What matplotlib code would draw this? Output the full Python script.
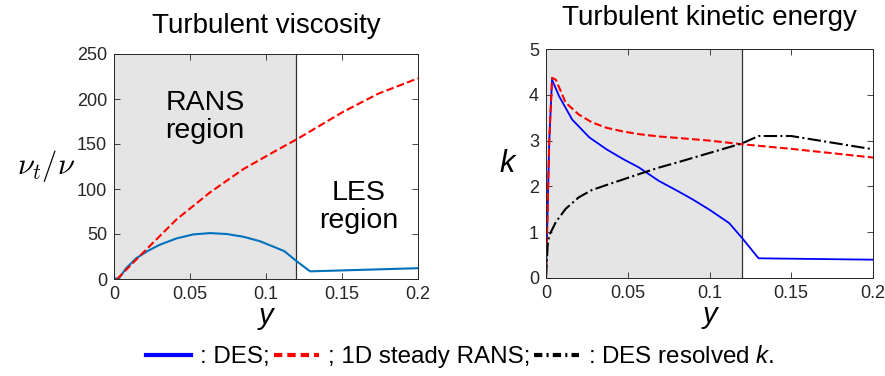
import matplotlib.pyplot as plt
from matplotlib.lines import Line2D

plt.rcParams['font.family'] = ['Liberation Sans', 'DejaVu Sans']
plt.rcParams['mathtext.fontset'] = 'custom'
plt.rcParams['mathtext.it'] = 'Liberation Sans:italic'
plt.rcParams['mathtext.rm'] = 'Liberation Sans'

# turbulent viscosity (left)
y_nu_des = [0.0, 0.003, 0.008, 0.0146, 0.022, 0.03, 0.041, 0.052, 0.063, 0.074, 0.085, 0.096, 0.112, 0.12, 0.129, 0.2]
nu_des = [1, 0, 12, 23, 31, 38, 45, 49.5, 51, 50, 47, 42, 31, 20, 8.5, 12]
y_nu_rans = [0.002, 0.019, 0.041, 0.063, 0.085, 0.107, 0.12, 0.151, 0.174, 0.2]
nu_rans = [0, 29, 66, 96, 122, 143, 155, 186, 206, 223]

# turbulent kinetic energy (right)
y_k_des = [0.0, 0.002, 0.0037, 0.008, 0.016, 0.0265, 0.037, 0.047, 0.057, 0.069, 0.08, 0.09, 0.1, 0.112, 0.12, 0.13, 0.2]
k_des = [0.0, 3.0, 4.33, 3.97, 3.46, 3.07, 2.81, 2.60, 2.41, 2.12, 1.91, 1.71, 1.49, 1.20, 0.87, 0.43, 0.40]
y_k_rans = [0.0, 0.002, 0.0037, 0.006, 0.012, 0.02, 0.028, 0.037, 0.047, 0.057, 0.069, 0.08, 0.1, 0.12, 0.15, 0.2]
k_rans = [0.0, 3.0, 4.37, 4.33, 3.83, 3.57, 3.40, 3.28, 3.20, 3.14, 3.09, 3.06, 3.00, 2.92, 2.82, 2.63]
y_k_res = [0.0, 0.001, 0.002, 0.006, 0.012, 0.02, 0.028, 0.037, 0.047, 0.057, 0.069, 0.08, 0.1, 0.12, 0.13, 0.15, 0.2]
k_res = [0.0, 0.71, 0.93, 1.22, 1.51, 1.76, 1.92, 2.03, 2.15, 2.27, 2.41, 2.52, 2.73, 2.94, 3.10, 3.10, 2.81]

y_interface = 0.12

fig = plt.figure(figsize=(8.85, 3.76), dpi=100)
ax1 = fig.add_axes([114 / 885, 1 - 279 / 376, 304 / 885, 225 / 376])
ax2 = fig.add_axes([546 / 885, 1 - 278 / 376, 327 / 885, 229 / 376])

for ax in (ax1, ax2):
    ax.axvspan(0, y_interface, color='#e5e5e5', lw=0, zorder=0)
    ax.axvline(y_interface, color='#333333', lw=0.9, zorder=1)
    ax.set_xlim(0, 0.2)
    ax.set_xticks([0, 0.05, 0.1, 0.15, 0.2])
    ax.set_xticklabels(['0', '0.05', '0.1', '0.15', '0.2'])
    ax.tick_params(direction='in', top=True, right=True, labelsize=13,
                   colors='#262626', length=4, width=0.6, pad=5)
    for s in ax.spines.values():
        s.set_color('#262626')
        s.set_linewidth(0.7)
    ax.set_xlabel('y', fontsize=21, style='italic', labelpad=-1)

ax1.plot(y_nu_des, nu_des, color='#0072BD', lw=1.5)
ax1.plot(y_nu_rans, nu_rans, '--', color='red', lw=1.5)
ax1.set_ylim(0, 250)
ax1.set_yticks([0, 50, 100, 150, 200, 250])
ax1.set_ylabel(r'$\nu_t/\nu$', fontsize=22, rotation=0, labelpad=22, va='center',
               math_fontfamily='cm')
ax1.set_title('Turbulent viscosity', fontsize=20, pad=15)
ax1.text(0.06, 180, 'RANS\nregion', fontsize=20.5, ha='center', va='center', linespacing=1.05)
ax1.text(0.161, 80, 'LES\nregion', fontsize=20.5, ha='center', va='center', linespacing=1.05)

ax2.plot(y_k_des, k_des, color='blue', lw=1.3)
ax2.plot(y_k_rans, k_rans, '--', color='red', lw=1.5)
ax2.plot(y_k_res, k_res, '-.', color='black', lw=1.5)
ax2.set_ylim(0, 5)
ax2.set_yticks([0, 1, 2, 3, 4, 5])
ax2.set_ylabel('k', fontsize=22, style='italic', rotation=0, labelpad=16, va='center')
ax2.set_title('Turbulent kinetic energy', fontsize=20, pad=17)

handles = [Line2D([], [], color='blue', lw=3),
           Line2D([], [], color='red', lw=3, ls=(0, (2, 1.2))),
           Line2D([], [], color='black', lw=3, ls=(0, (2, 1, 0.5, 1)))]
labels = [': DES;', '; 1D steady RANS;', ': DES resolved $k$.']
fig.legend(handles, labels, loc='center', bbox_to_anchor=(0.52, 19 / 376),
           ncol=3, frameon=False, fontsize=17.4, handlelength=1.86,
           handletextpad=0.37, columnspacing=0.17)

fig.savefig('out.png', dpi=100)
